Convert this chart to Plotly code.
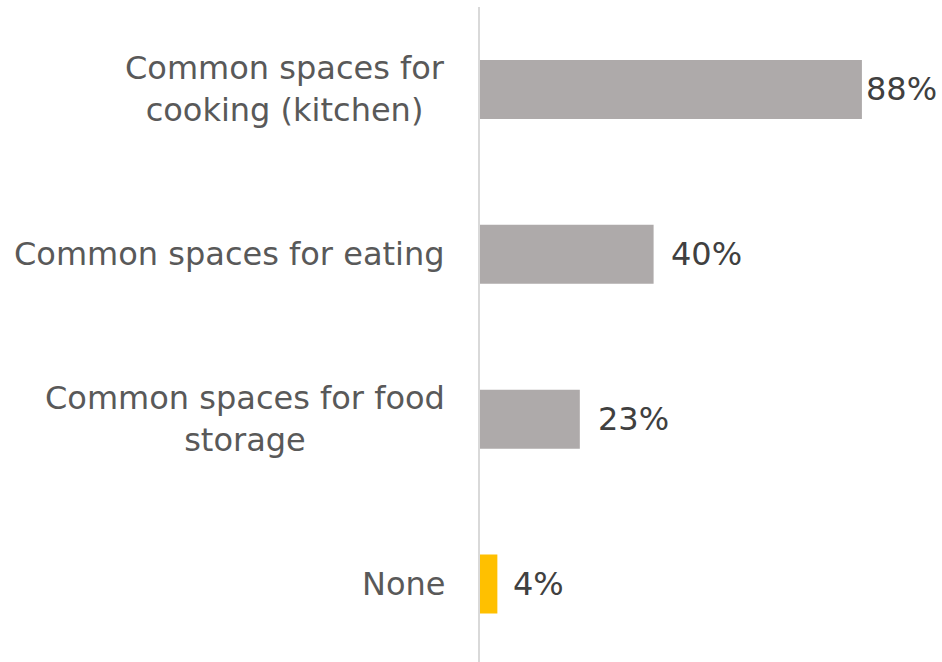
import plotly.graph_objects as go

categories = ["Common spaces for cooking (kitchen)", "Common spaces for eating",
              "Common spaces for food storage", "None"]
tick_labels = ["Common spaces for<br>cooking (kitchen)", "Common spaces for eating",
               "Common spaces for food<br>storage", "None"]
values = [88, 40, 23, 4]
value_labels = ["88%", "40%", "23%", "4%"]
bar_colors = ["#AEAAAA", "#AEAAAA", "#AEAAAA", "#FFC000"]
label_shift = [2, 15, 16, 14]

FONT = "DejaVu Sans"
TXT = "#595959"

fig = go.Figure(go.Bar(
    y=categories, x=values, orientation="h",
    marker=dict(color=bar_colors, line=dict(width=0)),
    width=0.358,
    hoverinfo="skip",
))

ann = []
for c, t in zip(categories, tick_labels):
    ann.append(dict(x=0, y=c, xref="x", yref="y", text=t, showarrow=False,
                    xanchor="right", yanchor="middle", align="center",
                    xshift=-33, font=dict(family=FONT, size=32, color=TXT)))
for c, v, lab, s in zip(categories, values, value_labels, label_shift):
    ann.append(dict(x=v, y=c, xref="x", yref="y", text=lab, showarrow=False,
                    xanchor="left", yanchor="middle", xshift=s,
                    font=dict(family=FONT, size=32, color="#404040")))

fig.update_layout(
    width=942, height=662,
    margin=dict(l=480, r=28, t=7, b=0),
    paper_bgcolor="white", plot_bgcolor="white",
    showlegend=False,
    annotations=ann,
    xaxis=dict(range=[0, 100], visible=False, fixedrange=True),
    yaxis=dict(categoryorder="array", categoryarray=categories,
               range=[3.473, -0.5], showticklabels=False, ticks="",
               showgrid=False, zeroline=False, fixedrange=True,
               showline=True, linecolor="#D9D9D9", linewidth=2),
)

fig.write_html("out.html", config={"displayModeBar": False},
               post_script="document.body.style.margin='0px';")
